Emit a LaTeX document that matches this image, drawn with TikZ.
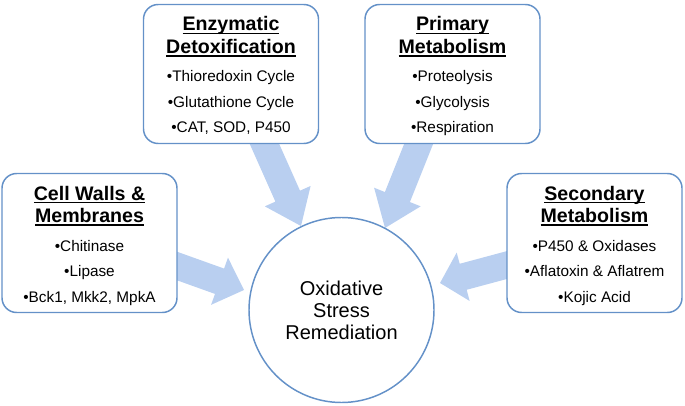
\documentclass[tikz,border=0pt]{standalone}
\usepackage{fontspec}
\setmainfont{Liberation Sans}
\usetikzlibrary{calc}
\definecolor{boxblue}{RGB}{100,145,200}
\definecolor{arrowblue}{RGB}{185,207,240}
\newcommand{\hul}[1]{\setbox0=\hbox{#1}\rlap{\rule[-2.4pt]{\wd0}{1.1pt}}\box0}
\newcommand{\blockarr}[3]{%
  \coordinate (hb) at ($(#2)!#3!(#1)$);
  \fill[arrowfill] ($(#1)!10.1pt!90:(#2)$) -- ($(hb)!10.1pt!-90:(#1)$) -- ($(hb)!18.8pt!-90:(#1)$) -- (#2) -- ($(hb)!18.8pt!90:(#1)$) -- ($(hb)!10.1pt!90:(#1)$) -- ($(#1)!10.1pt!-90:(#2)$) -- cycle;}
\newcommand{\infobox}[8]{%
  \node[infobox] (#1) at (#2,#3+70) {};
  \node[headtext] (#1-h1) at (#2,#3+27) {\hul{#4}};
  \node[headtext] (#1-h2) at (#2,#3+49.5) {\hul{#5}};
  \node[bodytext] (#1-b1) at (#2,#3+78) {#6};
  \node[bodytext] (#1-b2) at (#2,#3+103.5) {#7};
  \node[bodytext] (#1-b3) at (#2,#3+129) {#8};}
\begin{document}
\begin{tikzpicture}[x=0.75pt,y=-0.75pt,
  infobox/.style={draw=boxblue,line width=1.1pt,fill=white,rounded corners=11pt,
    minimum width=131.25pt,minimum height=104.25pt,inner sep=0pt},
  headtext/.style={anchor=base,inner sep=0pt,font=\fontsize{14.7pt}{17pt}\selectfont\bfseries},
  bodytext/.style={anchor=base,inner sep=0pt,font=\fontsize{11.5pt}{14pt}\selectfont},
  circtext/.style={anchor=base,inner sep=0pt,font=\fontsize{15pt}{18pt}\selectfont},
  arrowfill/.style={fill=arrowblue}]
\useasboundingbox (0,0) rectangle (685,406);
% arrow end points
\coordinate (a1s) at (170,263.5);
\coordinate (a1t) at (244,290);
\coordinate (a2s) at (261.6,137.5);
\coordinate (a2t) at (301,226);
\coordinate (a3s) at (421.2,137.5);
\coordinate (a3t) at (385,228);
\coordinate (a4s) at (513,263.4);
\coordinate (a4t) at (440,283);
\blockarr{a1s}{a1t}{19.5pt}
\blockarr{a2s}{a2t}{24.5pt}
\blockarr{a3s}{a3t}{25pt}
\blockarr{a4s}{a4t}{18pt}
% boxes
\infobox{enz}{231}{4}{Enzymatic}{Detoxification}{•Thioredoxin Cycle}{•Glutathione Cycle}{•CAT, SOD, P450}
\infobox{pri}{452.5}{4}{Primary}{Metabolism}{•Proteolysis}{•Glycolysis}{•Respiration}
\infobox{cw}{89.5}{173}{Cell Walls \&}{Membranes}{•Chitinase}{•Lipase}{•Bck1, Mkk2, MpkA}
\infobox{sec}{594.5}{173}{Secondary}{Metabolism}{•P450 \& Oxidases}{•Aflatoxin \& Aflatrem}{•Kojic Acid}
% centre circle
\node[circle,draw=boxblue,line width=1.1pt,fill=white,minimum size=138.75pt,inner sep=0pt] (ox) at (341.5,310) {};
\node[circtext] (ox-1) at (341.5,295) {Oxidative};
\node[circtext] (ox-2) at (341.5,317) {Stress};
\node[circtext] (ox-3) at (341.5,339) {Remediation};
\end{tikzpicture}
\end{document}
